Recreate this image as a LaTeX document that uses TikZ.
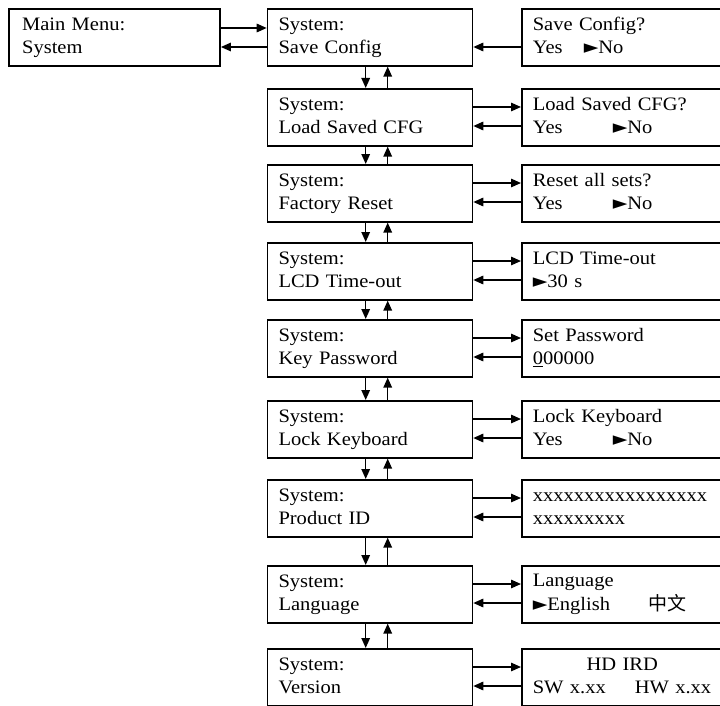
\documentclass[tikz,border=0pt]{standalone}
\usepackage{fontspec}
\setmainfont{Liberation Serif}[FakeStretch=1.08]
\newfontfamily\cjk{Noto Sans CJK SC}
\newfontfamily\symfont{DejaVu Sans}
\usetikzlibrary{arrows.meta}
\newcommand{\lcd}[2]{\strut#1\\\strut#2}
\newcommand{\pointer}{{\symfont ►}}

\begin{document}
\begin{tikzpicture}[x=1pt, y=-1pt,
  screen/.style={draw, line width=1.6pt, anchor=north west, minimum height=57pt,
    inner ysep=0pt, inner xsep=11pt, align=left, font=\fontsize{19}{22.6}\selectfont},
  mainscreen/.style={screen, inner xsep=13pt, text width=185pt},
  menuscreen/.style={screen, text width=183pt},
  subscreen/.style={screen, text width=240pt},
  link/.style={line width=1.5pt, -{Triangle[length=10pt, width=8.5pt]}}]

\useasboundingbox (0, 0) rectangle (720, 706);
\clip (0, 0) rectangle (720, 706);

\node [mainscreen] (main) at (8.3, 8) {\lcd{Main Menu:}{System}};

\node [menuscreen] (m1) at (266.7, 8) {\lcd{System:}{Save Config}};
\node [menuscreen] (m2) at (266.7, 88) {\lcd{System:}{Load Saved CFG}};
\node [menuscreen] (m3) at (266.7, 164) {\lcd{System:}{Factory Reset}};
\node [menuscreen] (m4) at (266.7, 242) {\lcd{System:}{LCD Time-out}};
\node [menuscreen] (m5) at (266.7, 319) {\lcd{System:}{Key Password}};
\node [menuscreen] (m6) at (266.7, 400) {\lcd{System:}{Lock Keyboard}};
\node [menuscreen] (m7) at (266.7, 479) {\lcd{System:}{Product ID}};
\node [menuscreen] (m8) at (266.7, 565) {\lcd{System:}{Language}};
\node [menuscreen] (m9) at (266.7, 648) {\lcd{System:}{Version}};

\node [subscreen] (r1) at (521, 8) {\lcd{Save Config?}{\makebox[51pt][l]{Yes}\pointer No}};
\node [subscreen] (r2) at (521, 88) {\lcd{Load Saved CFG?}{\makebox[80pt][l]{Yes}\pointer No}};
\node [subscreen] (r3) at (521, 164) {\lcd{Reset all sets?}{\makebox[80pt][l]{Yes}\pointer No}};
\node [subscreen] (r4) at (521, 242) {\lcd{LCD Time-out}{\pointer 30 s}};
\node [subscreen] (r5) at (521, 319) {\lcd{Set Password}{\underline{0}00000}};
\node [subscreen] (r6) at (521, 400) {\lcd{Lock Keyboard}{\makebox[80pt][l]{Yes}\pointer No}};
\node [subscreen] (r7) at (521, 479) {\lcd{xxxxxxxxxxxxxxxxx}{xxxxxxxxx}};
\node [subscreen] (r8) at (521, 565) {\lcd{Language}{\makebox[116pt][l]{\pointer English}{\cjk 中文}}};
\node [subscreen] (r9) at (521, 648) {\lcd{\makebox[179pt]{HD IRD}}{\makebox[102pt][l]{SW x.xx}HW x.xx}};

\draw [link] ([yshift=-20pt]main.north east) -- ([yshift=-20pt]m1.north west);
\draw [link] ([yshift=-39pt]m1.north west) -- ([yshift=-39pt]main.north east);
\draw [link] ([yshift=-39pt]r1.north west) -- ([yshift=-39pt]m1.north east);

\draw [link] ([yshift=-19pt]m2.north east) -- ([yshift=-19pt]r2.north west);
\draw [link] ([yshift=-38pt]r2.north west) -- ([yshift=-38pt]m2.north east);
\draw [link] ([yshift=-19pt]m3.north east) -- ([yshift=-19pt]r3.north west);
\draw [link] ([yshift=-38pt]r3.north west) -- ([yshift=-38pt]m3.north east);
\draw [link] ([yshift=-19pt]m4.north east) -- ([yshift=-19pt]r4.north west);
\draw [link] ([yshift=-38pt]r4.north west) -- ([yshift=-38pt]m4.north east);
\draw [link] ([yshift=-19pt]m5.north east) -- ([yshift=-19pt]r5.north west);
\draw [link] ([yshift=-38pt]r5.north west) -- ([yshift=-38pt]m5.north east);
\draw [link] ([yshift=-19pt]m6.north east) -- ([yshift=-19pt]r6.north west);
\draw [link] ([yshift=-38pt]r6.north west) -- ([yshift=-38pt]m6.north east);
\draw [link] ([yshift=-19pt]m7.north east) -- ([yshift=-19pt]r7.north west);
\draw [link] ([yshift=-38pt]r7.north west) -- ([yshift=-38pt]m7.north east);
\draw [link] ([yshift=-19pt]m8.north east) -- ([yshift=-19pt]r8.north west);
\draw [link] ([yshift=-38pt]r8.north west) -- ([yshift=-38pt]m8.north east);
\draw [link] ([yshift=-19pt]m9.north east) -- ([yshift=-19pt]r9.north west);
\draw [link] ([yshift=-38pt]r9.north west) -- ([yshift=-38pt]m9.north east);

\draw [link] ([xshift=99pt]m1.south west) -- ([xshift=99pt]m2.north west);
\draw [link] ([xshift=121pt]m2.north west) -- ([xshift=121pt]m1.south west);
\draw [link] ([xshift=99pt]m2.south west) -- ([xshift=99pt]m3.north west);
\draw [link] ([xshift=121pt]m3.north west) -- ([xshift=121pt]m2.south west);
\draw [link] ([xshift=99pt]m3.south west) -- ([xshift=99pt]m4.north west);
\draw [link] ([xshift=121pt]m4.north west) -- ([xshift=121pt]m3.south west);
\draw [link] ([xshift=99pt]m4.south west) -- ([xshift=99pt]m5.north west);
\draw [link] ([xshift=121pt]m5.north west) -- ([xshift=121pt]m4.south west);
\draw [link] ([xshift=99pt]m5.south west) -- ([xshift=99pt]m6.north west);
\draw [link] ([xshift=121pt]m6.north west) -- ([xshift=121pt]m5.south west);
\draw [link] ([xshift=99pt]m6.south west) -- ([xshift=99pt]m7.north west);
\draw [link] ([xshift=121pt]m7.north west) -- ([xshift=121pt]m6.south west);
\draw [link] ([xshift=99pt]m7.south west) -- ([xshift=99pt]m8.north west);
\draw [link] ([xshift=121pt]m8.north west) -- ([xshift=121pt]m7.south west);
\draw [link] ([xshift=99pt]m8.south west) -- ([xshift=99pt]m9.north west);
\draw [link] ([xshift=121pt]m9.north west) -- ([xshift=121pt]m8.south west);

\end{tikzpicture}
\end{document}
